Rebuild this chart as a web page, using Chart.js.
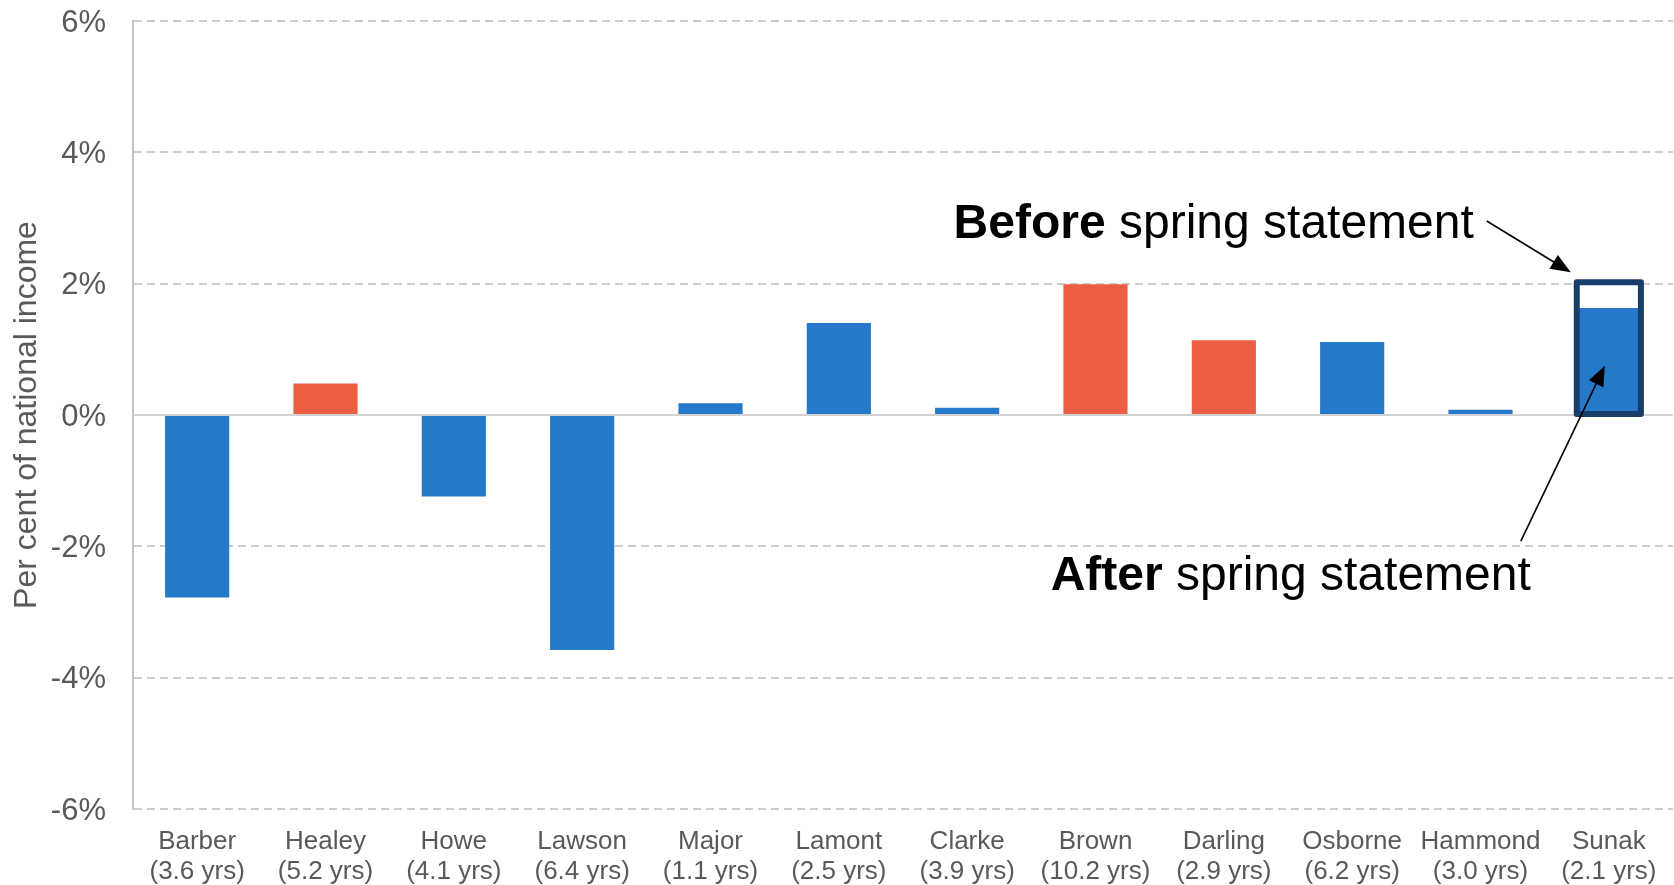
<!DOCTYPE html>
<html>
<head>
<meta charset="utf-8">
<title>Cumulative fiscal tightening by chancellor</title>
<script src="https://cdn.jsdelivr.net/npm/chart.js@4.4.1/dist/chart.umd.min.js"></script>
<style>
  html, body { margin: 0; padding: 0; background: #ffffff; }
  #wrap { width: 1674px; height: 885px; }
</style>
</head>
<body>
<div id="wrap"><canvas id="chart" width="1674" height="885"></canvas></div>
<script>
// Chancellors, time in office, and fiscal tightening (+) / loosening (-), % of national income
const chancellors = ['Barber', 'Healey', 'Howe', 'Lawson', 'Major', 'Lamont', 'Clarke', 'Brown', 'Darling', 'Osborne', 'Hammond', 'Sunak'];
const tenureYears = ['3.6', '5.2', '4.1', '6.4', '1.1', '2.5', '3.9', '10.2', '2.9', '6.2', '3.0', '2.1'];
const party = ['Con', 'Lab', 'Con', 'Con', 'Con', 'Con', 'Con', 'Lab', 'Lab', 'Con', 'Con', 'Con'];
const afterSpringStatement = [-2.78, 0.48, -1.24, -3.58, 0.18, 1.40, 0.11, 1.99, 1.14, 1.11, 0.08, 1.63];
const beforeSpringStatement = [null, null, null, null, null, null, null, null, null, null, null, 2.02];
const yTicks = [-6, -4, -2, 0, 2, 4, 6];

const FONT = '"Liberation Sans", Arial, Helvetica, sans-serif';
const GREY_TEXT = '#595959';
const BLUE = '#2679C9';
const RED = '#EC5D41';
const NAVY = '#163E68';

const categoryLabels = chancellors.map((name, i) => [name, '(' + tenureYears[i] + ' yrs)']);
const barColours = party.map(p => (p === 'Lab' ? RED : BLUE));

// Solid zero line drawn over the bars, then the outlined "before" bar and its notes
const overlayPlugin = {
  id: 'overlay',
  afterDatasetsDraw(chart) {
    const { ctx, chartArea, scales } = chart;
    const y0 = scales.y.getPixelForValue(0);
    ctx.save();
    ctx.strokeStyle = 'rgba(208,208,208,0.9)';
    ctx.lineWidth = 2;
    ctx.beginPath();
    ctx.moveTo(chartArea.left, y0);
    ctx.lineTo(chartArea.right, y0);
    ctx.stroke();

    // outline of the pre-statement value
    const meta = chart.getDatasetMeta(1);
    meta.data.forEach((bar, i) => {
      if (beforeSpringStatement[i] == null) return;
      const { x, y, base, width } = bar.getProps(['x', 'y', 'base', 'width'], true);
      ctx.strokeStyle = NAVY;
      ctx.lineWidth = 6;
      ctx.lineJoin = 'round';
      ctx.strokeRect(x - width / 2, y, width, base - y);
    });
    ctx.restore();
  },
  afterDraw(chart) {
    const { ctx, scales } = chart;
    const meta = chart.getDatasetMeta(1);
    const idx = beforeSpringStatement.findIndex(v => v != null);
    const bar = meta.data[idx];
    const { x, y, width } = bar.getProps(['x', 'y', 'width'], true);
    const yv = v => scales.y.getPixelForValue(v);
    const outerLeft = x - width / 2 - 3;
    const outerTop = y - 3;

    function arrow(x1, y1, x2, y2) {
      const ang = Math.atan2(y2 - y1, x2 - x1);
      const len = 20, half = 8;
      ctx.strokeStyle = '#000';
      ctx.fillStyle = '#000';
      ctx.lineWidth = 1.6;
      ctx.beginPath();
      ctx.moveTo(x1, y1);
      ctx.lineTo(x2 - Math.cos(ang) * len * 0.8, y2 - Math.sin(ang) * len * 0.8);
      ctx.stroke();
      ctx.beginPath();
      ctx.moveTo(x2, y2);
      ctx.lineTo(x2 - Math.cos(ang) * len + Math.sin(ang) * half, y2 - Math.sin(ang) * len - Math.cos(ang) * half);
      ctx.lineTo(x2 - Math.cos(ang) * len - Math.sin(ang) * half, y2 - Math.sin(ang) * len + Math.cos(ang) * half);
      ctx.closePath();
      ctx.fill();
    }

    function note(boldPart, rest, rightX, baseline) {
      ctx.textBaseline = 'alphabetic';
      ctx.textAlign = 'left';
      ctx.fillStyle = '#000';
      ctx.font = 'bold 48px ' + FONT;
      const wb = ctx.measureText(boldPart).width;
      ctx.font = '48px ' + FONT;
      const wr = ctx.measureText(rest).width;
      const left = rightX - wb - wr;
      ctx.font = 'bold 48px ' + FONT;
      ctx.fillText(boldPart, left, baseline);
      ctx.font = '48px ' + FONT;
      ctx.fillText(rest, left + wb, baseline);
    }

    ctx.save();
    // "Before" note, pointing at the top-left corner of the outline
    note('Before', ' spring statement', x - 135, yv(2.69));
    arrow(outerLeft - 87, yv(2.955), outerLeft - 3, outerTop - 7);
    // "After" note, pointing into the filled bar
    note('After', ' spring statement', x - 78, yv(-2.66));
    arrow(x - 88, yv(-1.92), x - 4, yv(0.75));
    ctx.restore();
  }
};

new Chart(document.getElementById('chart'), {
  type: 'bar',
  data: {
    labels: categoryLabels,
    datasets: [
      {
        label: 'After spring statement',
        data: afterSpringStatement,
        backgroundColor: barColours,
        borderWidth: 0,
        grouped: false,
        order: 2
      },
      {
        label: 'Before spring statement',
        data: beforeSpringStatement,
        backgroundColor: 'rgba(0,0,0,0)',
        borderWidth: 0,
        grouped: false,
        order: 1
      }
    ]
  },
  options: {
    responsive: false,
    animation: false,
    devicePixelRatio: 1,
    events: [],
    barPercentage: 0.5,
    categoryPercentage: 1.0,
    layout: { padding: { top: 21, right: 1, bottom: 0, left: 0 } },
    plugins: {
      legend: { display: false },
      tooltip: { enabled: false }
    },
    scales: {
      x: {
        grid: { display: false },
        border: { display: false },
        ticks: {
          color: GREY_TEXT,
          font: { family: FONT, size: 26, lineHeight: 1.18 },
          padding: 9,
          maxRotation: 0,
          autoSkip: false
        },
        afterFit(scale) { scale.height = 76; }
      },
      y: {
        min: yTicks[0],
        max: yTicks[yTicks.length - 1],
        afterBuildTicks(scale) { scale.ticks = yTicks.map(v => ({ value: v })); },
        ticks: {
          color: GREY_TEXT,
          font: { family: FONT, size: 31 },
          padding: 27,
          labelOffset: 2,
          callback: v => v + '%'
        },
        grid: {
          color: ctx => (ctx.tick && ctx.tick.value === 0 ? '#d9d9d9' : '#cccccc'),
          lineWidth: 2,
          drawTicks: false
        },
        border: {
          display: true,
          color: '#c4c4c4',
          width: 2,
          dash: ctx => (ctx.tick && ctx.tick.value === 0 ? [] : [8, 5])
        },
        title: {
          display: true,
          text: 'Per cent of national income',
          color: GREY_TEXT,
          font: { family: FONT, size: 32 },
          padding: { top: 8, bottom: 0 }
        },
        afterFit(scale) {
          scale.width = 133;
          scale.paddingTop = 0;
          scale.paddingBottom = 0;
        }
      }
    }
  },
  plugins: [overlayPlugin]
});
</script>
</body>
</html>
